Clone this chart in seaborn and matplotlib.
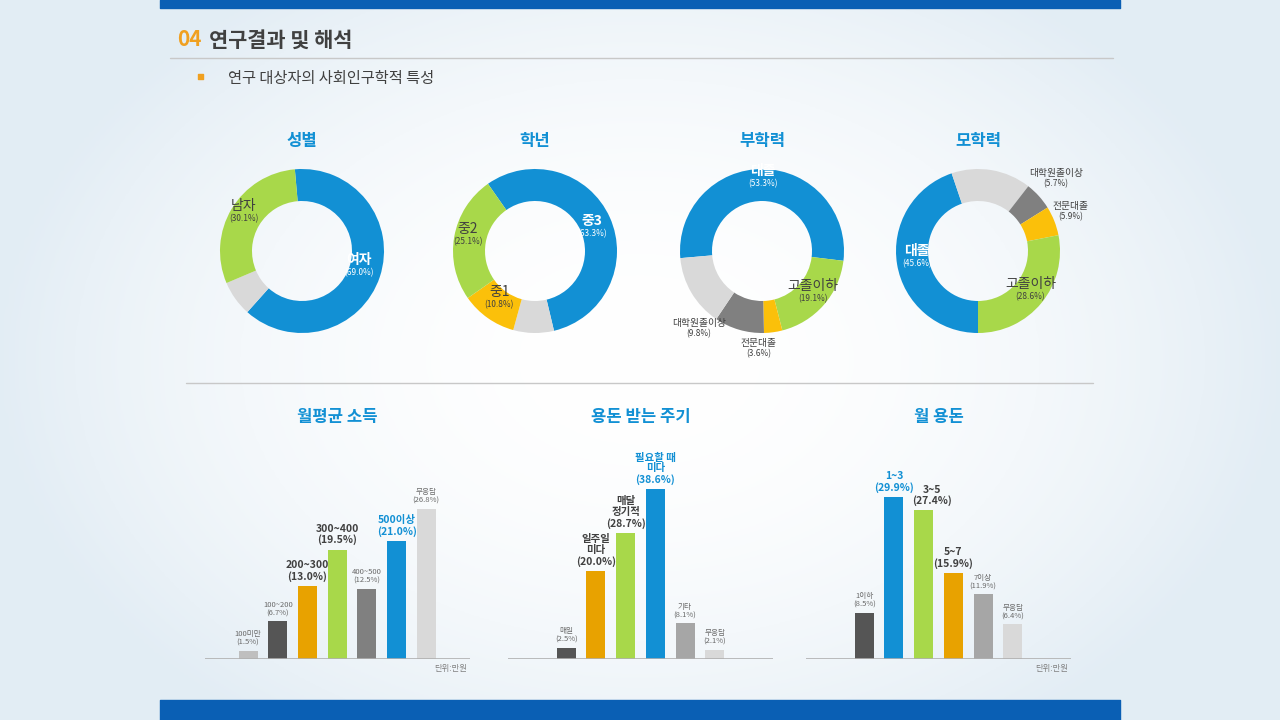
import numpy as np
import pandas as pd
import matplotlib.pyplot as plt
import seaborn as sns

sns.set_theme(style="white")
plt.rcParams['font.family'] = ['Noto Sans CJK KR', 'DejaVu Sans']

gender_vals = [63.0, 7.0, 30.0]
gender_text = ['여자\n(69.0%)', '', '남자\n(30.1%)']

grade_vals = [56.0, 8.0, 11.0, 25.0]
grade_text = ['중3\n(63.3%)', '', '중1\n(10.8%)', '중2\n(25.1%)']

father_vals = [53.3, 19.1, 3.6, 9.8, 14.2]
father_text = ['대졸\n(53.3%)', '고졸이하\n(19.1%)', '전문대졸\n(3.6%)', '대학원졸이상\n(9.8%)', '']

mother_vals = [45.6, 16.0, 5.7, 5.9, 28.6]
mother_text = ['대졸\n(45.6%)', '', '대학원졸이상\n(5.7%)', '전문대졸\n(5.9%)', '고졸이하\n(28.6%)']

# bar data
income_cats = ['100미만', '100~200', '200~300', '300~400', '400~500', '500이상', '무응답']
income_vals = [1.5, 6.7, 13.0, 19.5, 12.5, 21.0, 26.8]

freq_cats = ['매일', '일주일\n미다', '매달\n정기적', '필요할 때\n미다', '기타', '무응답']
freq_vals = [2.5, 20.0, 28.7, 38.6, 8.1, 2.1]

allow_cats = ['1이하', '1~3', '3~5', '5~7', '7이상', '무응답']
allow_vals = [8.5, 29.9, 27.4, 15.9, 11.9, 6.4]

BLUE = '#1290d4'; GREEN = '#a8d84a'; ORANGE = '#e8a200'; YEL = '#fbc00a'
DG = '#555555'; MG = '#808080'; LG = '#d9d9d9'; G2 = '#a6a6a6'; G3 = '#bfbfbf'

W, H = 1280, 720
fig = plt.figure(figsize=(12.8, 7.2), dpi=100)

# background gradient
bg = fig.add_axes([0, 0, 1, 1])
xx = np.linspace(-1, 1, 256)
gx, gy = np.meshgrid(xx, xx)
r = np.clip(np.sqrt(gx**2 + (gy * 0.8)**2), 0, 1)
c0 = np.array([1, 1, 1]); c1 = np.array([0.89, 0.93, 0.96])
img = c0 + (c1 - c0) * r[..., None]**2
bg.imshow(img, extent=[0, W, 0, H], aspect='auto')
bg.set_xlim(0, W); bg.set_ylim(H, 0); bg.axis('off')
bg.fill_between([160, 1120], 0, 8, color='#0a5fb4')
bg.fill_between([160, 1120], 700, 720, color='#0a5fb4')
bg.plot([170, 1113], [58, 58], color='#c8c8c8', lw=1)
bg.plot([186, 1093], [383, 383], color='#c8c8c8', lw=1)
bg.text(177, 40, '04', color='#f0a020', fontsize=15, fontweight='bold', va='center')
bg.text(209, 40, '연구결과 및 해석', color='#404040', fontsize=15, fontweight='bold', va='center')
bg.fill_between([198, 203], 74, 79, color='#f0a020')
bg.text(228, 78, '연구 대상자의 사회인구학적 특성', color='#404040', fontsize=11, va='center')


def px_axes(x0, y0, x1, y1):
    return fig.add_axes([x0 / W, 1 - y1 / H, (x1 - x0) / W, (y1 - y0) / H])


def donut(cx, cy, title, vals, texts, colors, start, rad, big, nudge):
    ax = px_axes(cx - 100, cy - 100, cx + 100, cy + 100)
    wedges, _ = ax.pie(vals, colors=colors, startangle=start, counterclock=False,
                       radius=0.82, wedgeprops=dict(width=0.32, linewidth=0))
    for w, t, rr, b, n in zip(wedges, texts, rad, big, nudge):
        if not t:
            continue
        a = np.deg2rad((w.theta1 + w.theta2) / 2 + n)
        name, pct = t.split('\n')
        col = 'white' if b == 2 else '#404040'
        fs = 10 if b else 7
        x, y = rr * np.cos(a), rr * np.sin(a)
        ax.text(x, y + 0.03, name, ha='center', va='bottom', fontsize=fs,
                color=col, fontweight='bold' if b == 2 else 'normal')
        ax.text(x, y + 0.02, pct, ha='center', va='top', fontsize=6, color=col)
    ax.set_xlim(-1, 1); ax.set_ylim(-1, 1); ax.set_aspect('equal')
    ax.axis('off')
    bg.text(cx, 141, title, ha='center', va='center', color=BLUE, fontsize=12, fontweight='bold')


donut(302, 251, '성별', gender_vals, gender_text, [BLUE, LG, GREEN], 95,
      [0.6, 0, 0.68], [2, 0, 1], [0, 0, 0])
donut(535, 251, '학년', grade_vals, grade_text, [BLUE, LG, YEL, GREEN], 125,
      [0.6, 0, 0.62, 0.68], [2, 0, 1, 1], [-5, 0, 0, 0])
donut(762, 251, '부학력', father_vals, father_text, [BLUE, GREEN, YEL, MG, LG], 185,
      [0.7, 0.68, 1.0, 1.02, 0], [2, 1, 0, 0, 0], [0, 0, -10, -22, 0])
donut(978, 251, '모학력', mother_vals, mother_text, [BLUE, LG, MG, YEL, GREEN], 270,
      [0.62, 0, 1.05, 1.0, 0.68], [2, 0, 0, 0, 1], [0, 0, 0, 0, 0])


def bars(x0, x1, title, cats, vals, colors, ymax, off, hi, bold, unit):
    ax = px_axes(x0, 440, x1, 659)
    df = pd.DataFrame({'cat': cats, 'val': vals})
    sns.barplot(data=df, x='cat', y='val', hue='cat', palette=colors, legend=False,
                width=0.64, saturation=1, linewidth=0, ax=ax)
    ax.set_xlim(-off, -off + (x1 - x0) / 29.7)
    ax.set_ylim(0, ymax)
    for i, (c, v) in enumerate(zip(cats, vals)):
        col = BLUE if i == hi else ('#404040' if bold[i] else '#6a6a6a')
        fs = 7.5 if bold[i] else 5.5
        dx = 6 if (hi == 1 and i == 2) else 0
        ax.annotate(f'{c}\n({v:.1f}%)', (i, v), xytext=(dx, 3), textcoords='offset points',
                    ha='center', va='bottom', fontsize=fs, color=col, linespacing=1.1,
                    fontweight='bold' if bold[i] else 'normal')
    ax.axis('off')
    ax.axhline(0, color='#b0b0b0', lw=1.2)
    bg.text((x0 + x1) / 2, 417, title, ha='center', va='center', color=BLUE,
            fontsize=12, fontweight='bold')
    if unit:
        bg.text(x1 - 3, 668, '단위:만원', ha='right', va='center', fontsize=6, color='#808080')


bars(205, 470, '월평균 소득', income_cats, income_vals, [G3, DG, ORANGE, GREEN, MG, BLUE, LG],
     39.0, 1.45, 5, [0, 0, 1, 1, 0, 1, 0], True)
bars(508, 773, '용돈 받는 주기', freq_cats, freq_vals, [DG, ORANGE, GREEN, BLUE, G2, LG],
     49.8, 1.96, 3, [0, 1, 1, 1, 0, 0], False)
bars(806, 1071, '월 용돈', allow_cats, allow_vals, [DG, BLUE, GREEN, ORANGE, G2, LG],
     40.4, 1.96, 1, [0, 1, 1, 1, 0, 0], True)

fig.savefig('out.png', dpi=100)
